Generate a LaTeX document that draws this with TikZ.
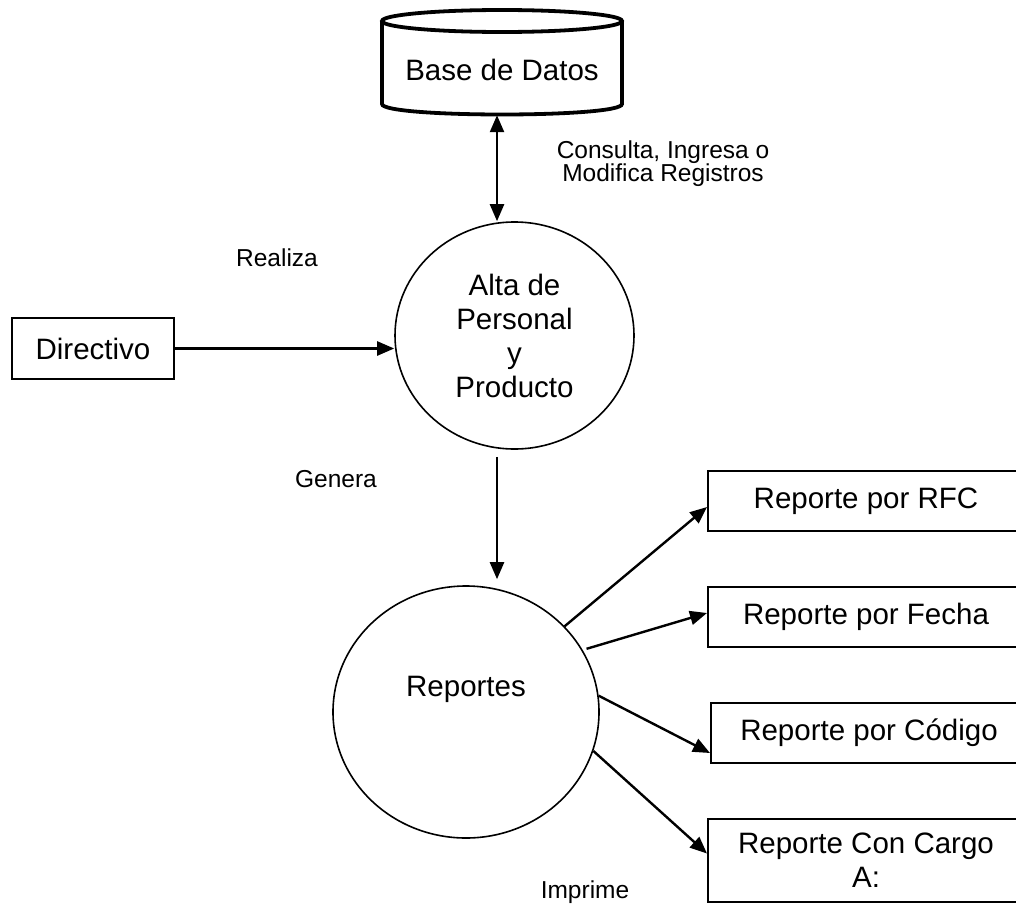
\documentclass[tikz,border=0pt]{standalone}
\usepackage{fontspec}
\setmainfont{Liberation Sans}
\usetikzlibrary{arrows.meta,calc,shapes.geometric}

\begin{document}
\begin{tikzpicture}[x=1pt, y=-1pt,
    every node/.style={font=\fontsize{29.5}{34}\selectfont},
    ent/.style={draw, line width=2pt, minimum width=162pt, minimum height=61pt},
    rpt/.style={draw, line width=2pt, minimum width=316pt, minimum height=60pt},
    proc/.style={ellipse, draw, line width=1.6pt, align=center},
    flow/.style={line width=2.4pt, -{Triangle[length=17pt,width=14pt]}},
    dflow/.style={line width=2.4pt, {Triangle[length=17pt,width=14pt]}-{Triangle[length=17pt,width=14pt]}},
    lbl/.style={font=\fontsize{24.5}{23}\selectfont, align=center}]
    \clip (0,0) rectangle (1016,907);

    % Base de datos
    \node[minimum width=240pt, minimum height=105pt, text height=35pt, text depth=0pt] (db) at (502,62.5) {Base de Datos};
    \draw[line width=3.8pt] (382,21) -- (382,104) .. controls (382,118) and (622,118) .. (622,104) -- (622,21);
    \draw[line width=3.8pt] (502,21) ellipse [x radius=120, y radius=11];

    % Procesos
    \node[proc, minimum width=239pt, minimum height=227pt] (alta) at (514.5,335.5) {Alta de\\Personal\\y\\Producto};
    \node[proc, minimum width=266pt, minimum height=252pt, text height=10pt, text depth=42pt] (rep) at (466,712) {Reportes};

    % Entidad
    \node[ent] (dir) at (93,348.5) {Directivo};

    % Salidas
    \node[rpt] (rfc) at (866,501) {Reporte por RFC};
    \node[rpt] (fecha) at (866,617) {Reporte por Fecha};
    \node[rpt] (cod) at (869,733) {Reporte por Código};
    \node[rpt, minimum height=83pt, align=center] (cargo) at (866,860.5) {Reporte Con Cargo\\A:};

    % Flujos
    \draw[dflow] ([xshift=-5pt]db.south) -- ([xshift=-17.5pt]alta.north);
    \draw[flow] (dir.east) -- (dir.east -| alta.west);
    \draw[flow] ($(alta.south)+(-17.5,7)$) -- ($(rep.north)+(31,-6)$);
    \draw[flow] (rep.41) -- ([yshift=-6pt]rfc.west);
    \draw[flow, shorten <=4pt] (rep.28) -- ([yshift=4pt]fecha.west);
    \draw[flow] (rep.7) -- ([yshift=-20pt]cod.west);
    \draw[flow] (rep.-17) -- ([yshift=7pt]cargo.west);

    % Etiquetas
    \node[lbl] (consulta) at (663,164) {Consulta, Ingresa o\\Modifica Registros};
    \node[lbl] (realiza) at (277,258) {Realiza};
    \node[lbl] (genera) at (336,479) {Genera};
    \node[lbl] (imprime) at (585,892) {Imprime};
\end{tikzpicture}
\end{document}
